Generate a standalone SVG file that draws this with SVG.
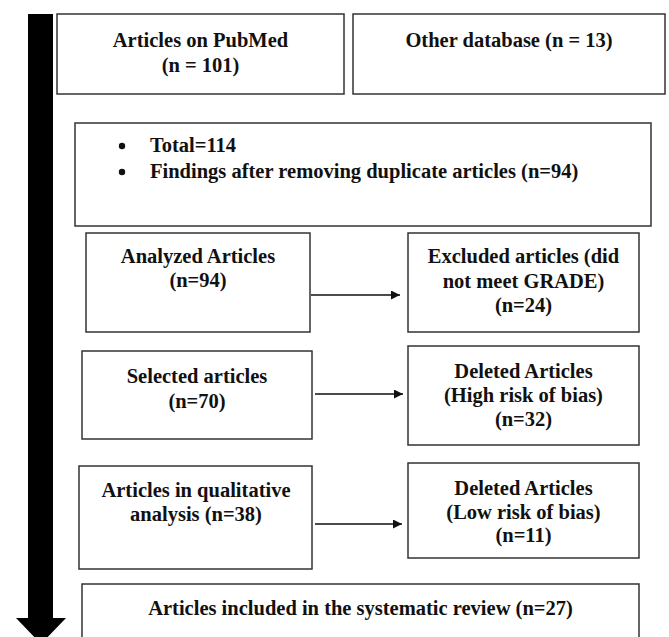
<svg xmlns="http://www.w3.org/2000/svg" width="669" height="637" viewBox="0 0 669 637">
<defs>
<style>
.box{fill:#fff;stroke:#333;stroke-width:1.5}
.t{font-family:"Liberation Serif","Times New Roman",serif;font-weight:bold;font-size:20.5px;fill:#111;text-anchor:middle}
.tl{text-anchor:start}
.conn{stroke:#111;stroke-width:1.7;fill:none}
</style>
<marker id="ah" viewBox="0 0 10 10" refX="10" refY="5" markerWidth="11" markerHeight="9" markerUnits="userSpaceOnUse" orient="auto">
<path d="M0,0 L10,5 L0,10 Z" fill="#111"/>
</marker>
</defs>
<rect width="669" height="637" fill="#fff"/>
<g id="flow-arrow">
<path d="M28,14 H53 V618 H66 L41,644 L16,618 H28 Z" fill="#000"/>
</g>
<g id="pubmed">
<rect class="box" x="57" y="14" width="287" height="80"/>
<text class="t" x="200.5" y="47">Articles on PubMed</text>
<text class="t" x="200.5" y="72">(n = 101)</text>
</g>
<g id="other">
<rect class="box" x="353" y="14" width="312" height="80"/>
<text class="t" x="509" y="47">Other database (n = 13)</text>
</g>
<g id="total">
<rect class="box" x="75" y="123" width="576" height="103"/>
<circle cx="122" cy="146" r="3.2" fill="#111"/>
<circle cx="122" cy="172" r="3.2" fill="#111"/>
<text class="t tl" x="150" y="152">Total=114</text>
<text class="t tl" x="150" y="178">Findings after removing duplicate articles (n=94)</text>
</g>
<g id="analyzed">
<rect class="box" x="86" y="233" width="224" height="99"/>
<text class="t" x="198" y="263">Analyzed Articles</text>
<text class="t" x="198" y="287">(n=94)</text>
</g>
<g id="excluded">
<rect class="box" x="408" y="233" width="231" height="99"/>
<text class="t" x="523.5" y="263">Excluded articles (did</text>
<text class="t" x="523.5" y="288">not meet GRADE)</text>
<text class="t" x="523.5" y="312">(n=24)</text>
</g>
<g id="selected">
<rect class="box" x="82" y="351" width="230" height="88"/>
<text class="t" x="197" y="383">Selected articles</text>
<text class="t" x="197" y="408">(n=70)</text>
</g>
<g id="deleted-high">
<rect class="box" x="408" y="346" width="231" height="99"/>
<text class="t" x="523.5" y="378">Deleted Articles</text>
<text class="t" x="523.5" y="402">(High risk of bias)</text>
<text class="t" x="523.5" y="426">(n=32)</text>
</g>
<g id="qualitative">
<rect class="box" x="79" y="466" width="233" height="103"/>
<text class="t" x="196" y="497">Articles in qualitative</text>
<text class="t" x="196" y="521">analysis (n=38)</text>
</g>
<g id="deleted-low">
<rect class="box" x="408" y="463" width="231" height="95"/>
<text class="t" x="523.5" y="495">Deleted Articles</text>
<text class="t" x="523.5" y="519">(Low risk of bias)</text>
<text class="t" x="523.5" y="542">(n=11)</text>
</g>
<g id="included">
<rect class="box" x="82" y="584" width="557" height="70"/>
<text class="t" x="360.5" y="615">Articles included in the systematic review (n=27)</text>
</g>
<g id="connectors">
<line class="conn" x1="311" y1="295" x2="400" y2="295" marker-end="url(#ah)"/>
<line class="conn" x1="315" y1="394" x2="403" y2="394" marker-end="url(#ah)"/>
<line class="conn" x1="315" y1="524" x2="402" y2="524" marker-end="url(#ah)"/>
</g>
</svg>
